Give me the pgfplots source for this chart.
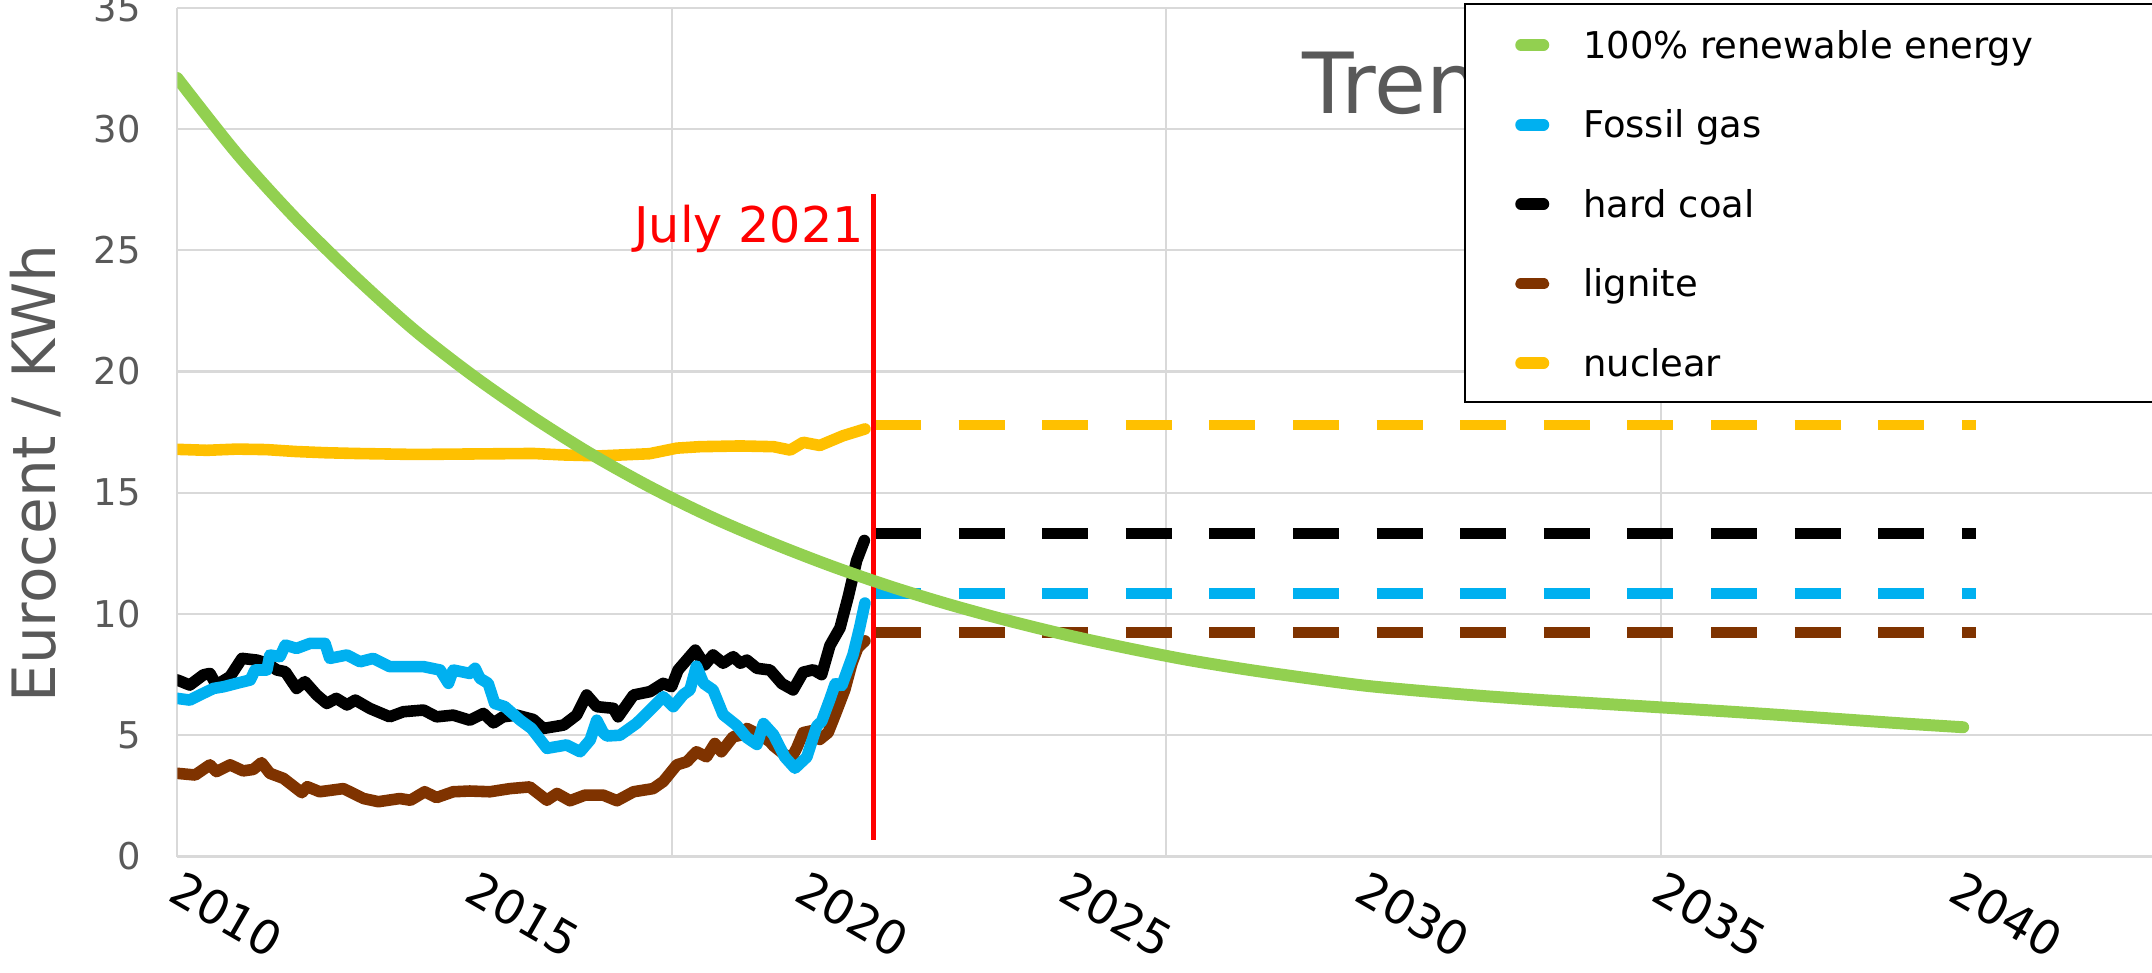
\documentclass[border=0pt]{standalone}
\usepackage{fontspec}
\setmainfont{DejaVu Sans}
\usepackage{pgfplots}
\pgfplotsset{compat=1.18}

\definecolor{renew}{HTML}{92D050}
\definecolor{gas}{HTML}{00B0F0}
\definecolor{lignite}{HTML}{7F3300}
\definecolor{nuclear}{HTML}{FFC000}
\definecolor{txtgray}{HTML}{595959}
\definecolor{gridgray}{HTML}{D9D9D9}

\begin{document}
\begin{tikzpicture}
\useasboundingbox (0,0) rectangle (21.52cm,9.72cm);
\clip (0,0) rectangle (21.52cm,9.72cm);
\begin{axis}[
  at={(1.773cm,1.155cm)}, anchor=south west,
  scale only axis, width=19.747cm, height=8.4875cm,
  xmin=2010, xmax=2043.283, ymin=0, ymax=35,
  axis line style={draw=none},
  xtick={2010,2015,2020.55,2025,2030,2035,2040},
  xticklabels={2010,2015,2020,2025,2030,2035,2040},
  minor xtick={2010,2018.333,2026.667,2035},
  ytick={0,5,10,15,20,25,30,35},
  major tick length=0pt, minor tick length=0pt,
  ymajorgrids, xminorgrids,
  major grid style={draw=gridgray, line width=0.6pt},
  minor grid style={draw=gridgray, line width=0.6pt},
  /pgf/number format/assume math mode=true,
  /pgf/number format/1000 sep={},
  yticklabel style={font=\fontsize{10.5}{12}\selectfont, text=txtgray, anchor=east, inner sep=0pt, xshift=-0.36cm},
  xticklabel style={xshift=0.06cm, yshift=-0.115cm, rotate=-30, anchor=north west, inner sep=0pt, font=\fontsize{13.4}{16}\selectfont, text=black},
  ylabel={Eurocent / KWh},
  every axis y label/.style={at={(axis description cs:-0.0619,0.4513)}, rotate=90, anchor=base, inner sep=0pt, font=\fontsize{17}{20}\selectfont, text=txtgray},
  legend style={at={(axis description cs:0.65159,1.00559)}, anchor=north west, draw=black, line width=0.7pt, fill=white,
    inner xsep=0.5cm, inner ysep=0pt, row sep=0pt, column sep=0.34cm, font=\fontsize{10.5}{12}\selectfont,
    nodes={inner sep=0pt, text height=0.54cm, text depth=0.255cm, anchor=base west}},
  legend cell align=left,
  legend image code/.code={
    \path[draw=none, fill=none] (0cm,-0.06cm) rectangle (0.34cm,0.25cm);
    \draw[#1, solid, line width=0.115cm, line cap=round] (0.0575cm,0.13cm) -- (0.2825cm,0.13cm);
  },
]
\addlegendimage{renew}
\addlegendentry{\makebox[6.5cm][l]{100\% renewable energy}}
\addlegendimage{gas}
\addlegendentry{Fossil gas}
\addlegendimage{black}
\addlegendentry{hard coal}
\addlegendimage{lignite}
\addlegendentry{lignite}
\addlegendimage{nuclear}
\addlegendentry{nuclear}

% monthly history up to July 2021
\addplot[forget plot, lignite, line width=3.3pt, line join=round, line cap=round] coordinates {
(2010.00,3.43) (2010.30,3.36) (2010.55,3.78) (2010.66,3.50) (2010.89,3.78) (2011.11,3.53) (2011.28,3.59) (2011.42,3.87) (2011.56,3.43) (2011.79,3.22) (2012.10,2.63) (2012.19,2.88) (2012.40,2.67) (2012.80,2.80) (2013.14,2.39) (2013.39,2.26) (2013.75,2.39) (2013.93,2.32) (2014.17,2.67) (2014.37,2.43) (2014.65,2.67) (2014.93,2.70) (2015.27,2.67) (2015.61,2.80) (2015.94,2.87) (2016.23,2.32) (2016.40,2.60) (2016.62,2.30) (2016.87,2.53) (2017.18,2.53) (2017.41,2.30) (2017.69,2.67) (2018.02,2.80) (2018.19,3.09) (2018.42,3.78) (2018.59,3.91) (2018.75,4.32) (2018.92,4.11) (2019.06,4.66) (2019.17,4.32) (2019.37,4.94) (2019.49,5.00) (2019.60,5.28) (2019.83,5.00) (2019.99,4.73) (2020.05,4.56) (2020.24,4.19) (2020.36,4.10) (2020.44,4.47) (2020.55,5.11) (2020.72,5.20) (2020.83,4.83) (2020.97,5.11) (2021.09,5.85) (2021.25,6.87) (2021.37,7.96) (2021.47,8.61) (2021.59,8.89)};
\addplot[forget plot, black, line width=3.3pt, line join=round, line cap=round] coordinates {
(2010.00,7.28) (2010.21,7.07) (2010.44,7.49) (2010.55,7.55) (2010.66,7.07) (2010.89,7.42) (2011.09,8.17) (2011.34,8.10) (2011.51,7.97) (2011.68,7.69) (2011.82,7.62) (2012.01,6.93) (2012.15,7.21) (2012.35,6.66) (2012.52,6.31) (2012.68,6.52) (2012.86,6.25) (2013.00,6.45) (2013.25,6.10) (2013.58,5.76) (2013.81,5.97) (2014.15,6.04) (2014.37,5.76) (2014.65,5.83) (2014.93,5.62) (2015.16,5.90) (2015.33,5.51) (2015.49,5.76) (2015.72,5.83) (2016.00,5.65) (2016.17,5.28) (2016.51,5.42) (2016.73,5.83) (2016.90,6.66) (2017.07,6.18) (2017.35,6.11) (2017.43,5.76) (2017.69,6.66) (2017.97,6.80) (2018.19,7.14) (2018.33,7.00) (2018.44,7.69) (2018.73,8.51) (2018.89,7.90) (2019.03,8.31) (2019.20,7.97) (2019.37,8.24) (2019.49,7.97) (2019.60,8.10) (2019.77,7.76) (2019.99,7.69) (2020.19,7.13) (2020.38,6.87) (2020.55,7.60) (2020.72,7.70) (2020.86,7.50) (2021.00,8.70) (2021.17,9.43) (2021.31,10.73) (2021.45,12.20) (2021.58,13.03)};
\addplot[forget plot, gas, line width=3.3pt, line join=round, line cap=round] coordinates {
(2010.00,6.52) (2010.21,6.45) (2010.38,6.66) (2010.61,6.93) (2010.78,7.00) (2011.00,7.14) (2011.23,7.28) (2011.31,7.69) (2011.51,7.69) (2011.56,8.31) (2011.73,8.24) (2011.82,8.72) (2012.01,8.58) (2012.24,8.79) (2012.49,8.79) (2012.57,8.17) (2012.86,8.31) (2013.08,8.03) (2013.30,8.17) (2013.58,7.83) (2014.15,7.83) (2014.43,7.69) (2014.57,7.14) (2014.65,7.69) (2014.93,7.55) (2015.02,7.76) (2015.10,7.35) (2015.24,7.14) (2015.35,6.31) (2015.52,6.18) (2015.78,5.62) (2015.97,5.28) (2016.23,4.46) (2016.56,4.60) (2016.79,4.32) (2016.96,4.81) (2017.07,5.62) (2017.18,5.10) (2017.24,4.97) (2017.46,5.00) (2017.74,5.49) (2017.97,6.04) (2018.19,6.59) (2018.36,6.18) (2018.53,6.68) (2018.64,6.87) (2018.75,7.85) (2018.87,7.14) (2019.03,6.87) (2019.20,5.85) (2019.43,5.40) (2019.60,4.90) (2019.77,4.62) (2019.88,5.48) (2020.05,5.02) (2020.24,4.10) (2020.41,3.64) (2020.61,4.10) (2020.78,5.39) (2020.86,5.57) (2021.00,6.49) (2021.09,7.13) (2021.20,7.05) (2021.39,8.33) (2021.50,9.43) (2021.59,10.45)};
\addplot[forget plot, nuclear, line width=3.3pt, line join=round, line cap=round] coordinates {
(2010.00,16.79) (2010.50,16.75) (2011.00,16.80) (2011.50,16.78) (2012.00,16.70) (2012.50,16.65) (2013.00,16.62) (2013.50,16.60) (2014.00,16.58) (2015.00,16.60) (2016.00,16.62) (2016.50,16.56) (2017.12,16.52) (2017.96,16.61) (2018.42,16.84) (2018.81,16.90) (2019.49,16.93) (2020.05,16.90) (2020.33,16.76) (2020.55,17.08) (2020.83,16.95) (2021.22,17.35) (2021.59,17.63)};

% flat projections after July 2021
\addplot[forget plot, nuclear, line width=3.05pt, line cap=butt, dash pattern=on 0.46cm off 0.376cm] coordinates {(2021.76,17.79) (2040.31,17.79)};
\addplot[forget plot, black, line width=3.05pt, line cap=butt, dash pattern=on 0.46cm off 0.376cm] coordinates {(2021.76,13.33) (2040.31,13.33)};
\addplot[forget plot, gas, line width=3.05pt, line cap=butt, dash pattern=on 0.46cm off 0.376cm] coordinates {(2021.76,10.85) (2040.31,10.85)};
\addplot[forget plot, lignite, line width=3.05pt, line cap=butt, dash pattern=on 0.46cm off 0.376cm] coordinates {(2021.76,9.24) (2040.31,9.24)};

% July 2021 marker
\addplot[forget plot, red, line width=1.5pt] coordinates {(2021.731,0.7) (2021.731,27.34)};
\node[anchor=base east, inner sep=0pt, text=red, font=\fontsize{14}{17}\selectfont] at (axis cs:2021.58,25.32) {July 2021};

% renewable cost path
\addplot[forget plot, renew, line width=3.4pt, line cap=round, smooth] coordinates {
(2010,32.1) (2011,29.0) (2012,26.3) (2013,23.9) (2014,21.7) (2015,19.8) (2016,18.1) (2017,16.56) (2018,15.2) (2019,14.0) (2020,12.95) (2021,12.0) (2022,11.15) (2023,10.4) (2024,9.73) (2025,9.13) (2026,8.6) (2027,8.12) (2028,7.72) (2029,7.37) (2030,7.05) (2031,6.82) (2032,6.62) (2033,6.45) (2034,6.3) (2035,6.15) (2036,6.0) (2037,5.84) (2038,5.67) (2039,5.5) (2040.1,5.33)};

\node[anchor=base west, inner sep=0pt, text=txtgray, font=\fontsize{24}{28}\selectfont] at (axis cs:2028.95,30.65) {Trend};
\end{axis}
\end{tikzpicture}
\end{document}
